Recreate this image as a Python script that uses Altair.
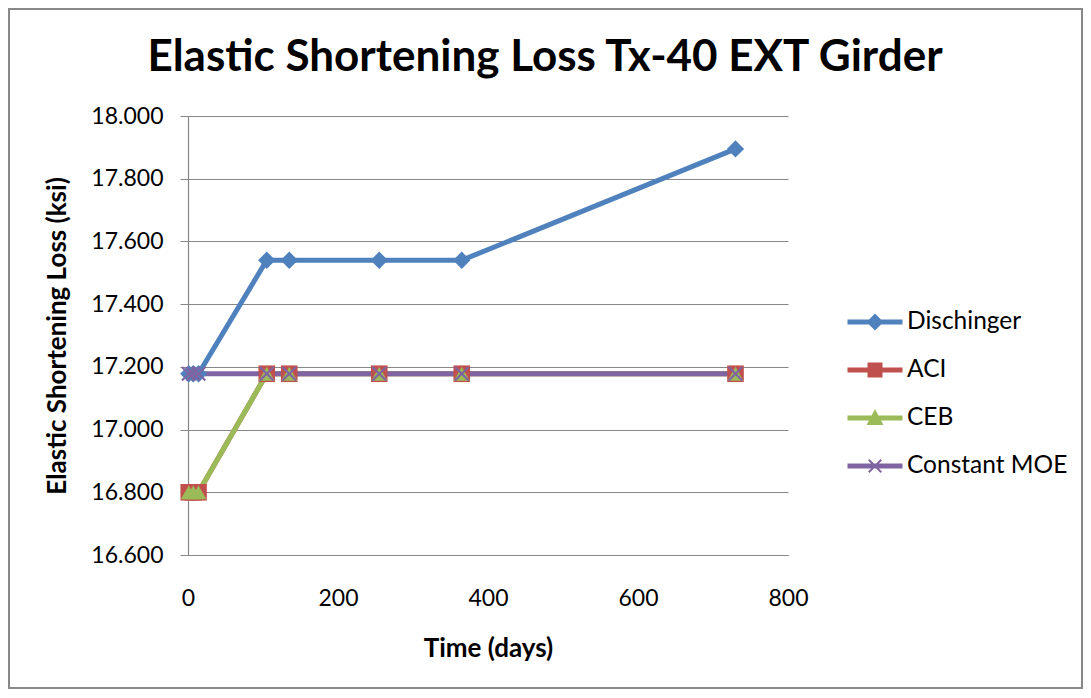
import altair as alt
import pandas as pd

series_names = ["Dischinger", "ACI", "CEB", "Constant MOE"]
days = [1, 7, 14, 105, 135, 255, 365, 730]
dischinger = [17.178, 17.178, 17.178, 17.540, 17.540, 17.540, 17.540, 17.895]
aci = [16.800, 16.800, 16.800, 17.178, 17.178, 17.178, 17.178, 17.178]
ceb = [16.800, 16.800, 16.800, 17.178, 17.178, 17.178, 17.178, 17.178]
constant_moe = [17.178, 17.178, 17.178, 17.178, 17.178, 17.178, 17.178, 17.178]

colors = ["#4F81BD", "#C0504D", "#9BBB59", "#8064A2"]

rows = []
for name, vals in zip(series_names, [dischinger, aci, ceb, constant_moe]):
    for d, v in zip(days, vals):
        rows.append({"series": name, "day": d, "value": v})
df = pd.DataFrame(rows)

FONT = "Lato"

a = 0.2
xpts = [(-1, -1 + a), (-1 + a, -1), (0, -a), (1 - a, -1), (1, -1 + a), (a, 0),
        (1, 1 - a), (1 - a, 1), (0, a), (-1 + a, 1), (-1, 1 - a), (-a, 0)]


def poly(pts, s=1.0):
    return "M" + "L".join(f"{x*s:.3f},{y*s:.3f}" for x, y in pts) + "Z"


x_path = poly(xpts)
plot_shapes = ["diamond", "square", "triangle-up", x_path]
plot_sizes = [300, 230, 260, 170]

line_seg = "M-1.146,-0.104L1.146,-0.104L1.146,0.104L-1.146,0.104Z"
leg_shapes = [
    line_seg + "M0,-0.354L0.354,0L0,0.354L-0.354,0Z",
    line_seg + "M-0.3125,-0.3125L0.3125,-0.3125L0.3125,0.3125L-0.3125,0.3125Z",
    line_seg + "M0,-0.375L0.35,0.29L-0.35,0.29Z",
    line_seg + poly(xpts, 0.29),
]

x_enc = alt.X("day:Q", scale=alt.Scale(domain=[0, 800], nice=False),
              axis=alt.Axis(title="Time (days)", values=[0, 200, 400, 600, 800],
                            grid=False, ticks=False, labelPadding=32, labelFlush=False,
                            titlePadding=25))
y_enc = alt.Y("value:Q", scale=alt.Scale(domain=[16.6, 18.0], nice=False, zero=False),
              axis=alt.Axis(title="Elastic Shortening Loss (ksi)", format=".3f",
                            values=[16.6, 16.8, 17.0, 17.2, 17.4, 17.6, 17.8, 18.0],
                            tickSize=8, labelPadding=17, titlePadding=20))
color_scale = alt.Scale(domain=series_names, range=colors)

lines = alt.Chart(df).mark_line(strokeWidth=5).encode(
    x=x_enc, y=y_enc, color=alt.Color("series:N", scale=color_scale, legend=None),
    order="day:Q")

points = alt.Chart(df).mark_point(filled=True, opacity=1).encode(
    x="day:Q", y="value:Q",
    color=alt.Color("series:N", scale=color_scale, legend=None),
    shape=alt.Shape("series:N", scale=alt.Scale(domain=series_names, range=plot_shapes),
                    legend=None),
    size=alt.Size("series:N", scale=alt.Scale(domain=series_names, range=plot_sizes),
                  legend=None),
)

leg = alt.Legend(title=None, orient="none", legendX=663, legendY=182,
                 symbolSize=2304, symbolStrokeWidth=0, symbolOpacity=1,
                 rowPadding=12, labelOffset=8, padding=0, labelFontSize=24.5,
                 labelLimit=400, labelFont=FONT, labelColor="#000000")

legend_layer = alt.Chart(df).mark_point(filled=True, size=0).encode(
    x="day:Q", y="value:Q",
    color=alt.Color("series:N", scale=color_scale, legend=leg),
    shape=alt.Shape("series:N", scale=alt.Scale(domain=series_names, range=leg_shapes),
                    legend=leg),
)

border = alt.Chart(df).mark_rect(fillOpacity=0, stroke="#888888", strokeWidth=1.5).encode(
    x=alt.value(-179), x2=alt.value(894), y=alt.value(-107), y2=alt.value(572))

chart = alt.layer(border, lines, points, legend_layer).resolve_scale(
    color="independent", shape="independent", size="independent"
).properties(
    width=600, height=439,
    padding={"left": 180, "top": 108, "right": 295, "bottom": 135},
    autosize=alt.AutoSizeParams(type="none"),
    background="#ffffff",
    title=alt.TitleParams("Elastic Shortening Loss Tx-40 EXT Girder", font=FONT,
                          fontSize=44, fontWeight="bold", color="#000000",
                          dx=57, offset=-72, anchor="middle"),
).configure_view(stroke=None).configure_axis(
    domainColor="#878787", tickColor="#878787", gridColor="#878787",
    gridWidth=1.2, domainWidth=1.2, labelFont=FONT, labelFontSize=23,
    labelColor="#000000", titleFont=FONT, titleFontSize=26, titleFontWeight="bold",
    titleColor="#000000",
)

chart.save("out.html", embed_options={"renderer": "svg", "actions": False})
